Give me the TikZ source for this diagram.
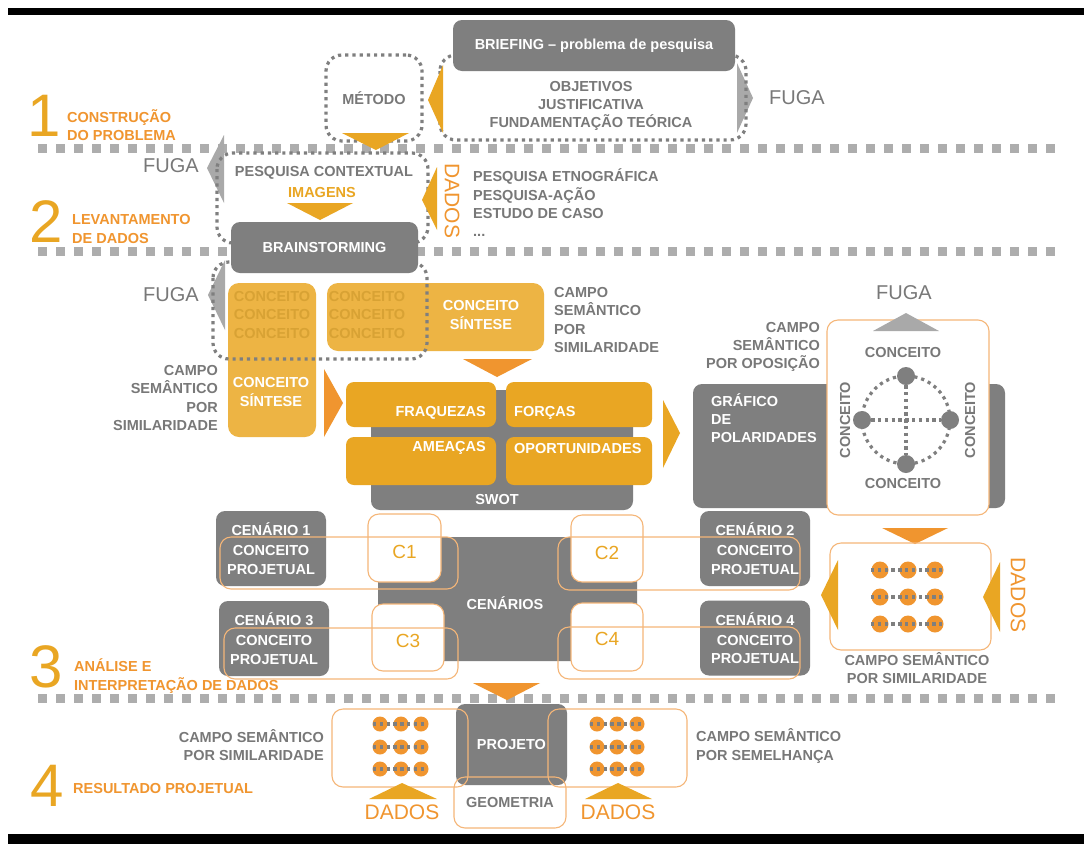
\documentclass[tikz,border=0pt]{standalone}
\usepackage{fontspec}
\setmainfont{Liberation Sans}
\usetikzlibrary{positioning}

\definecolor{boxgray}{HTML}{7F7F7F}
\definecolor{txtgray}{HTML}{787878}
\definecolor{fugagray}{HTML}{A9A9A9}
\definecolor{sepgray}{HTML}{ADADAD}
\definecolor{gold}{HTML}{E9A623}
\definecolor{lightgold}{HTML}{EDB444}
\definecolor{fadegold}{HTML}{D8A234}
\definecolor{deeporange}{HTML}{F0952F}
\definecolor{ringorange}{HTML}{F5B678}

\newcommand{\lblfont}{\fontsize{14.5}{18.3}\selectfont\bfseries}

\begin{document}
\begin{tikzpicture}[x=1pt, y=-1pt,
  lbl/.style={font=\lblfont, text=txtgray, inner sep=0pt},
  wlbl/.style={lbl, text=white},
  olbl/.style={lbl, text=deeporange},
  bignum/.style={font=\fontsize{60}{60}\selectfont, text=gold, inner sep=0pt},
  fuga/.style={font=\fontsize{20}{20}\selectfont, text=txtgray, inner sep=0pt},
  dados/.style={font=\fontsize{21}{21}\selectfont, text=deeporange, inner sep=0pt},
  cc/.style={font=\fontsize{19}{19}\selectfont, text=gold, inner sep=0pt},
  sz/.style 2 args={minimum width=#1pt, minimum height=#2pt, inner sep=0pt},
  gbox/.style={fill=boxgray, rounded corners=9pt},
  swbox/.style={fill=gold, rounded corners=8pt},
  cbox/.style={fill=lightgold, rounded corners=11pt},
  ring/.style={draw=ringorange, line width=1.1pt, rounded corners=11pt},
  dotbox/.style={draw=boxgray, line width=3.2pt, dash pattern=on 3.2pt off 4pt, rounded corners=16pt},
  dotrow/.style={draw=boxgray, line width=3.4pt, dash pattern=on 3.4pt off 3.4pt},
  pdot/.style={circle, fill=boxgray, minimum size=18pt, inner sep=0pt},
  sep/.style={draw=sepgray, line width=9pt, dash pattern=on 9pt off 9pt},
  tri/.style={fill=gold},
  redtri/.style={fill=deeporange},
  fugatri/.style={fill=fugagray},
]
  \fill[white] (0,0) rectangle (1084,844);
  \useasboundingbox (0,0) rectangle (1084,844);

  % frame
  \fill[black] (8,8) rectangle (1084,15);
  \fill[black] (8,834) rectangle (1084,844);

  % phase separators
  \foreach \y in {148,251,698}
    \draw[sep] (38,\y) -- (1058,\y);

  % 1 - problem
  \node[bignum] (num1) at (44,116) {1};
  \node[olbl, anchor=west, align=left] (phase1) at (67,125) {CONSTRUÇÃO\\DO PROBLEMA};

  \fill[fugatri] (737,63) -- (753,98) -- (737,133) -- cycle;
  \draw[dotbox] (440,55) rectangle (746,140);
  \node[gbox, wlbl, sz={282}{51}] (brief) at (594,45.5) {BRIEFING – problema de pesquisa};
  \node[lbl, align=center] (objetivos) at (591,106) {OBJETIVOS\\JUSTIFICATIVA\\FUNDAMENTAÇÃO TEÓRICA};
  \node[fuga] (fugaA) at (797,98) {FUGA};
  \fill[tri] (443,65) -- (428,100) -- (443,133) -- cycle;

  \node[dotbox, lbl, sz={96}{86}] (metodo) at (374,98) {MÉTODO};
  \fill[tri] (342,133) -- (409,133) -- (376,150) -- cycle;

  % 2 - data
  \node[bignum] (num2) at (46,222) {2};
  \node[olbl, anchor=west, align=left] (phase2) at (72,229) {LEVANTAMENTO\\DE DADOS};

  \fill[fugatri] (224,135) -- (207,168) -- (224,203) -- cycle;
  \node[fuga] (fugaB) at (171,166) {FUGA};
  \draw[dotbox] (217,153) rectangle (428,243);
  \node[lbl] (pesq) at (324,173) {PESQUISA CONTEXTUAL};
  \node[lbl, text=gold] (imagens) at (322,193) {IMAGENS};
  \fill[tri] (287,203) -- (353,203) -- (320,220) -- cycle;

  \fill[tri] (437,167) -- (422,200) -- (437,230) -- cycle;
  \node[dados, rotate=-90] (dadosB) at (452,201) {DADOS};
  \node[lbl, anchor=west, align=left] (tecnicas) at (473,203) {PESQUISA ETNOGRÁFICA\\PESQUISA-AÇÃO\\ESTUDO DE CASO\\...};

  % 3 - analysis
  \fill[fugatri] (225,260) -- (208,295) -- (225,330) -- cycle;
  \node[fuga] (fugaC) at (171,295) {FUGA};
  \node[cbox, sz={88}{154}] (cbtall) at (272,360) {};
  \node[cbox, sz={217}{68}] (cbwide) at (435.5,317) {};
  \node[lbl, text=fadegold, align=center] (cgrpA) at (272,315) {CONCEITO\\CONCEITO\\CONCEITO};
  \node[lbl, text=fadegold, align=center] (cgrpB) at (367,315) {CONCEITO\\CONCEITO\\CONCEITO};
  \node[wlbl, align=center] (sintA) at (271,392) {CONCEITO\\SÍNTESE};
  \node[wlbl, align=center] (sintB) at (481,315) {CONCEITO\\SÍNTESE};
  \draw[dotbox] (213,262) rectangle (427,359);
  \node[gbox, wlbl, sz={187}{51}] (brain) at (324.5,247.5) {BRAINSTORMING};

  \node[lbl, anchor=east, align=right] (simA) at (218,398) {CAMPO\\SEMÂNTICO\\POR\\SIMILARIDADE};
  \node[lbl, anchor=west, align=left] (simB) at (554,320) {CAMPO\\SEMÂNTICO\\POR\\SIMILARIDADE};
  \fill[redtri] (324,369) -- (343,403) -- (324,437) -- cycle;
  \fill[redtri] (463,359) -- (532,359) -- (497,377) -- cycle;

  % swot
  \node[gbox, sz={262}{120}] (swot) at (502,450) {};
  \node[wlbl] (swottxt) at (497,499) {SWOT};
  \node[swbox, sz={150}{45}] (fraq) at (421,404.5) {};
  \node[swbox, sz={146}{45}] (forc) at (579,404.5) {};
  \node[swbox, sz={150}{48}] (amea) at (421,461) {};
  \node[swbox, sz={146}{48}] (opor) at (579,461) {};
  \node[wlbl, anchor=east] (fraqtxt) at (486,413) {FRAQUEZAS};
  \node[wlbl, anchor=west] (forctxt) at (514,413) {FORÇAS};
  \node[wlbl, anchor=east] (ameatxt) at (486,448) {AMEAÇAS};
  \node[wlbl, anchor=west] (oportxt) at (514,448) {OPORTUNIDADES};
  \fill[tri] (663,400) -- (680,433) -- (663,468) -- cycle;

  % polarities
  \node[gbox, sz={312}{124}] (polar) at (849,446) {};
  \node[wlbl, anchor=west, align=left] (polartxt) at (711,418) {GRÁFICO\\DE\\POLARIDADES};
  \node[ring, fill=white, sz={162}{195}] (polring) at (908,417.5) {};
  \fill[fugagray] (873,331) -- (906,313) -- (939,331) -- cycle;
  \node[fuga] (fugaD) at (904,293) {FUGA};
  \node[lbl, anchor=east, align=right] (oposicao) at (820,347) {CAMPO\\SEMÂNTICO\\POR OPOSIÇÃO};
  \coordinate (pc) at (906,420);
  \draw[dotbox] (pc) circle[radius=44pt];
  \node[pdot] (pn) at (906,376) {};
  \node[pdot] (ps) at (906,464) {};
  \node[pdot] (pw) at (862,420) {};
  \node[pdot] (pe) at (950,420) {};
  \draw[dotrow] (pn) -- (ps);
  \draw[dotrow] (pw) -- (pe);
  \node[lbl] (conN) at (903,353) {CONCEITO};
  \node[lbl] (conS) at (903,483) {CONCEITO};
  \node[lbl, rotate=90] (conW) at (845,420) {CONCEITO};
  \node[lbl, rotate=90] (conE) at (970,420) {CONCEITO};

  % semantic field
  \fill[redtri] (882,528) -- (948,528) -- (915,544) -- cycle;
  \node[ring, sz={161}{107}] (simring) at (910.5,596.5) {};
  \foreach \y in {570,597,624} {
    \foreach \x in {880,908,935}
      \fill[deeporange] (\x,\y) circle[radius=8.5pt];
    \draw[dotrow] (871,\y) -- (942,\y);
  }
  \fill[tri] (838,560) -- (821,595) -- (838,630) -- cycle;
  \fill[tri] (1000,562) -- (983,597) -- (1000,632) -- cycle;
  \node[dados, rotate=-90] (dadosC) at (1018,595) {DADOS};
  \node[lbl, align=center] (simC) at (917,668) {CAMPO SEMÂNTICO\\POR SIMILARIDADE};

  % scenarios
  \node[gbox, sz={259}{124}] (cen) at (507.5,599) {};
  \node[wlbl] (centxt) at (505,603) {CENÁRIOS};
  \node[gbox, wlbl, align=center, sz={110}{75}] (cen1) at (271,548.5) {CENÁRIO 1\\[2pt]CONCEITO\\PROJETUAL};
  \node[gbox, wlbl, align=center, sz={110}{75}] (cen2) at (755,548.5) {CENÁRIO 2\\[2pt]CONCEITO\\PROJETUAL};
  \node[gbox, wlbl, align=center, sz={110}{75}] (cen3) at (274,638.5) {CENÁRIO 3\\[2pt]CONCEITO\\PROJETUAL};
  \node[gbox, wlbl, align=center, sz={110}{75}] (cen4) at (755,638) {CENÁRIO 4\\[2pt]CONCEITO\\PROJETUAL};
  \node[ring, fill=white, sz={73}{68}] (c1) at (404.5,548) {};
  \node[ring, fill=white, sz={72}{67}] (c2) at (607,548.5) {};
  \node[ring, fill=white, sz={72}{67}] (c3) at (408,637.5) {};
  \node[ring, fill=white, sz={72}{68}] (c4) at (607,637) {};
  \node[cc] (c1txt) at ([yshift=-4pt]c1) {C1};
  \node[cc] (c2txt) at ([yshift=-4pt]c2) {C2};
  \node[cc] (c3txt) at ([yshift=-3pt]c3) {C3};
  \node[cc] (c4txt) at ([yshift=-2pt]c4) {C4};
  \node[ring, sz={238}{52}] (ring1) at (339,563) {};
  \node[ring, sz={242}{53}] (ring2) at (679,563.5) {};
  \node[ring, sz={234}{51}] (ring3) at (341,653.5) {};
  \node[ring, sz={242}{52}] (ring4) at (679,653) {};

  \node[bignum] (num3) at (46,667) {3};
  \node[olbl, anchor=west, align=left] (phase3) at (74,676) {ANÁLISE E\\INTERPRETAÇÃO DE DADOS};
  \fill[redtri] (473,683) -- (540,683) -- (507,700) -- cycle;

  % 4 - result
  \node[bignum] (num4) at (47,786) {4};
  \node[olbl, anchor=west] (phase4) at (73,788) {RESULTADO PROJETUAL};
  \node[gbox, wlbl, sz={111}{81}] (proj) at (511.5,744.5) {PROJETO};
  \node[ring, sz={136}{78}] (lring) at (400,748) {};
  \node[ring, sz={139}{78}] (rring) at (617.5,748) {};
  \node[ring, lbl, sz={112}{51}] (geo) at (510,802.5) {GEOMETRIA};
  \foreach \y in {724,747,769} {
    \foreach \x in {380,401,421,597,617,637}
      \fill[deeporange] (\x,\y) circle[radius=7.5pt];
    \draw[dotrow] (373,\y) -- (426,\y);
    \draw[dotrow] (590,\y) -- (642,\y);
  }
  \fill[tri] (369,799) -- (402,783) -- (437,799) -- cycle;
  \fill[tri] (585,799) -- (618,783) -- (652,799) -- cycle;
  \node[dados] (dadosD) at (402,812) {DADOS};
  \node[dados] (dadosE) at (618,812) {DADOS};
  \node[lbl, anchor=east, align=right] (simD) at (324,745) {CAMPO SEMÂNTICO\\POR SIMILARIDADE};
  \node[lbl, anchor=west, align=left] (semE) at (696,746) {CAMPO SEMÂNTICO\\POR SEMELHANÇA};
\end{tikzpicture}
\end{document}
